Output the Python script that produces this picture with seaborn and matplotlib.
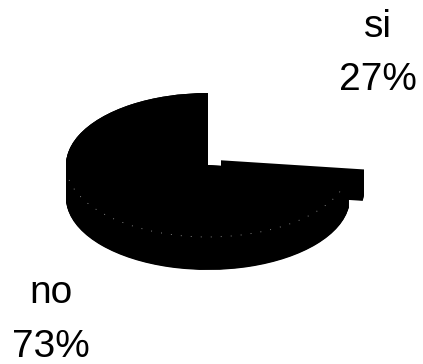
import numpy as np
import matplotlib
matplotlib.use("Agg")
import matplotlib.pyplot as plt
from matplotlib.patches import Arc
import seaborn as sns

# ---- data ----
labels = ["si", "no"]
values = [27, 73]
pct_labels = ["27%", "73%"]
explode = [0.13, 0.0]

sns.set_style("white")
plt.rcParams["font.family"] = ["Liberation Sans", "DejaVu Sans"]

W, H = 423, 364
fig = plt.figure(figsize=(W / 100, H / 100), dpi=100)
ax = fig.add_axes([0, 0, 1, 1])

# layout (pixel geometry of the flattened pie)
cx, cy = 208, 165        # centre of top face in pixels
rx, ry = 142, 72         # ellipse semi-axes in pixels
depth_px = 33


def to_data(px, py):
    return (px - cx) / rx, (cy - py) / ry


depth = depth_px / ry
steps = np.linspace(depth, 0.0, 60)

# side of the pie: black layers swept downward
for d in steps:
    ax.pie(values, startangle=90, counterclock=False, explode=explode,
           colors=["black", "black"], center=(0, -d), radius=1,
           wedgeprops=dict(linewidth=0))

# top face: "si" face light (white), "no" face black
wedges, _ = ax.pie(values, startangle=90, counterclock=False, explode=explode,
                   colors=["white", "black"], center=(0, 0), radius=1,
                   wedgeprops=dict(linewidth=0))
wedges[0].set_edgecolor("white")
wedges[0].set_linewidth(2.2)
wedges[0].set_zorder(5)

# faint rim specks between top face and side
ax.add_patch(Arc((0, 0), 2, 2, theta1=192, theta2=340, color="white",
                 lw=0.6, linestyle=(0, (1, 11)), alpha=0.7, zorder=6))

ax.set_aspect("auto")
x0, y0 = to_data(0, H)
x1, y1 = to_data(W, 0)
ax.set_xlim(x0, x1)
ax.set_ylim(y0, y1)
ax.axis("off")

fs = 28
# labels
for lab, pct, (lx, ly1, ly2) in zip(labels, pct_labels,
                                    [(378, 37, 90), (51, 303, 357)]):
    ax.text(*to_data(lx, ly1), lab, ha="center", va="baseline",
            fontsize=fs, color="black", zorder=7)
    ax.text(*to_data(lx, ly2), pct, ha="center", va="baseline",
            fontsize=fs, color="black", zorder=7)

fig.savefig("out.png", dpi=100, facecolor="white")
